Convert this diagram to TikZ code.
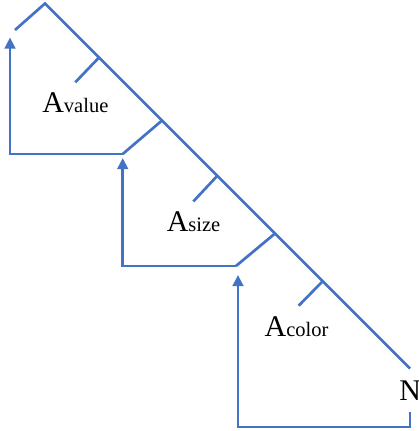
\documentclass[tikz,border=0pt]{standalone}
\usepackage{fontspec}
\setmainfont{Liberation Serif}
\usetikzlibrary{arrows.meta}
\definecolor{lineblue}{HTML}{4472C4}
\tikzset{
  treeline/.style={draw=lineblue, line width=2.7pt, line cap=butt, line join=miter},
  flowarrow/.style={treeline, -{Triangle[length=11pt,width=10.5pt]}},
  lbl/.style={anchor=base west, inner sep=0pt, outer sep=0pt, text=black},
}
\newcommand{\bigA}[1]{{\fontsize{30}{30}\selectfont A}{\fontsize{20.5}{20.5}\selectfont #1}}
\begin{document}
\begin{tikzpicture}[x=1pt,y=-1pt]
\useasboundingbox (0,0) rectangle (418,431);
% main diagonal points
\coordinate (apex) at (45,3.5);
\coordinate (j1) at (162,120.5);
\coordinate (j2) at (275,233.5);
\coordinate (dend) at (410,368.5);
% branch corners
\coordinate (c0) at (15,30);
\coordinate (c1) at (122.7,154);
\coordinate (c2) at (236,266);
% ticks
\coordinate (t1a) at (99,57.5);
\coordinate (t1b) at (75.3,82.3);
\coordinate (t2a) at (217.3,175.8);
\coordinate (t2b) at (193.3,201.5);
\coordinate (t3a) at (322.7,281.2);
\coordinate (t3b) at (298.7,305.7);
% arrow bends and tips
\coordinate (b1) at (10,154);
\coordinate (tip1) at (10,37.5);
\coordinate (b2) at (122.7,266);
\coordinate (tip2) at (122.7,158);
\coordinate (nfoot) at (410,411.7);
\coordinate (b3a) at (410,427);
\coordinate (b3b) at (238,427);
\coordinate (tip3) at (238,275);
% labels
\node[lbl] (avalue) at (42.3,112.7) {\bigA{value}};
\node[lbl] (asize) at (166.8,231.7) {\bigA{size}};
\node[lbl] (acolor) at (264.6,336) {\bigA{color}};
\node[lbl] (n) at (399.3,400.7) {\fontsize{30}{30}\selectfont N};
% tree lines
\draw[treeline] (c0) -- (apex) -- (dend);
\draw[treeline] (c1) -- (j1);
\draw[treeline] (c2) -- (j2);
\draw[treeline] (t1a) -- (t1b);
\draw[treeline] (t2a) -- (t2b);
\draw[treeline] (t3a) -- (t3b);
% arrows
\draw[flowarrow] (c1) -- (b1) -- (tip1);
\draw[flowarrow] (c2) -- (b2) -- (tip2);
\draw[flowarrow] (nfoot) -- (b3a) -- (b3b) -- (tip3);
\end{tikzpicture}
\end{document}
